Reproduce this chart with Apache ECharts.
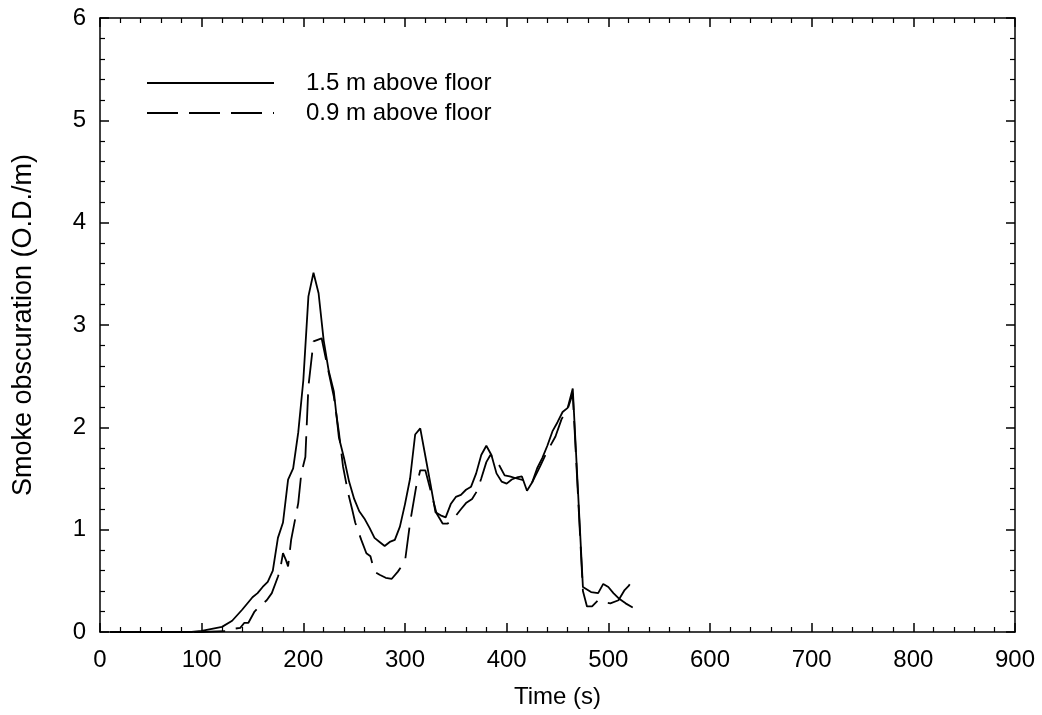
<!DOCTYPE html>
<html>
<head>
<meta charset="utf-8">
<script src="https://cdn.jsdelivr.net/npm/echarts@6/dist/echarts.min.js"></script>
<style>
  html, body { margin: 0; padding: 0; background: #fff; }
  #main { width: 1042px; height: 715px; }
</style>
</head>
<body>
<div id="main"></div>
<script>
// 1.5 m above floor
var time15 = [10, 50, 90, 100, 110, 120, 130, 140, 150, 155, 160, 165, 170, 175, 180, 185, 190, 195, 200, 205,
    210, 215, 220, 225, 230, 235, 240, 245, 250, 255, 260, 265, 270, 275, 280, 285, 290, 295, 300, 305,
    310, 315, 320, 325, 330, 335, 340, 345, 350, 355, 360, 365, 370, 375, 380, 385, 390, 395, 400, 405,
    410, 415, 420, 425, 430, 435, 440, 445, 450, 455, 460, 465, 475, 483, 490, 495, 500, 505, 510, 517, 524];
var smoke15 = [0, 0, 0, 0.01, 0.03, 0.05, 0.11, 0.22, 0.34, 0.38, 0.44, 0.49, 0.6, 0.92, 1.07, 1.49, 1.6, 1.95, 2.46, 3.28,
    3.51, 3.31, 2.85, 2.55, 2.35, 1.9, 1.7, 1.47, 1.3, 1.18, 1.11, 1.02, 0.92, 0.88, 0.84, 0.88, 0.9, 1.03, 1.25, 1.5,
    1.93, 1.99, 1.72, 1.45, 1.17, 1.14, 1.12, 1.25, 1.32, 1.34, 1.39, 1.42, 1.55, 1.73, 1.82, 1.73, 1.55, 1.47, 1.45, 1.49,
    1.51, 1.52, 1.38, 1.46, 1.6, 1.7, 1.82, 1.96, 2.05, 2.15, 2.19, 2.38, 0.44, 0.39, 0.38, 0.47, 0.44, 0.38, 0.33, 0.28, 0.24];

// 0.9 m above floor
var time09 = [10, 60, 100, 125, 130, 138, 142, 146, 152, 158, 164, 169, 175, 177, 180, 183, 185, 188, 195, 198,
    202, 205, 210, 218, 224, 230, 235, 239, 244, 248, 251, 257, 262, 266, 270, 275, 281, 287, 293, 300,
    305, 311, 315, 320, 325, 331, 337, 342, 348, 355, 360, 366, 371, 375, 380, 384, 391, 398, 403, 410,
    418, 424, 433, 439, 448, 454, 460, 465, 475, 479, 484, 490, 496, 502, 510, 516, 520, 525];
var smoke09 = [0, 0, 0, 0.01, 0.03, 0.04, 0.09, 0.09, 0.2, 0.26, 0.31, 0.38, 0.54, 0.6, 0.77, 0.7, 0.64, 0.9, 1.26, 1.55,
    1.71, 2.4, 2.84, 2.87, 2.58, 2.3, 1.95, 1.62, 1.36, 1.2, 1.07, 0.9, 0.77, 0.74, 0.59, 0.56, 0.53, 0.52, 0.59, 0.69,
    1.07, 1.42, 1.58, 1.58, 1.39, 1.16, 1.06, 1.06, 1.11, 1.2, 1.26, 1.3, 1.38, 1.5, 1.66, 1.73, 1.66, 1.53, 1.52, 1.5,
    1.48, 1.44, 1.62, 1.75, 1.91, 2.08, 2.18, 2.33, 0.4, 0.25, 0.25, 0.31, 0.29, 0.28, 0.31, 0.41, 0.45, 0.53];

function pairs(xs, ys) {
    return xs.map(function (x, i) { return [x, ys[i]]; });
}

var font = 'Liberation Sans';
var myChart = echarts.init(document.getElementById('main'));

var axisBase = {
    type: 'value',
    axisLine: { show: true, onZero: false, lineStyle: { color: '#000', width: 1.5 } },
    axisTick: { show: true, inside: true, length: 9, lineStyle: { color: '#000', width: 1.5 } },
    minorTick: { show: true, splitNumber: 5, length: 5, lineStyle: { color: '#000', width: 1.2 } },
    splitLine: { show: false },
    axisLabel: { color: '#000', fontSize: 24, fontFamily: font }
};

myChart.setOption({
    animation: false,
    backgroundColor: '#fff',
    grid: { left: 100, right: 27, top: 18, bottom: 83 },
    legend: {
        orient: 'vertical',
        left: 141,
        top: 66,
        itemWidth: 127,
        itemHeight: 14,
        itemGap: 6,
        itemStyle: { opacity: 0 },
        textStyle: { color: '#000', fontSize: 24, fontFamily: font, padding: [0, 0, 0, 27] },
        data: ['1.5 m above floor', '0.9 m above floor']
    },
    xAxis: [
        Object.assign({}, axisBase, {
            min: 0, max: 900, interval: 100,
            axisLabel: Object.assign({}, axisBase.axisLabel, { margin: 16 }),
            name: 'Time (s)', nameLocation: 'middle', nameGap: 53,
            nameTextStyle: { color: '#000', fontSize: 24, fontFamily: font }
        }),
        Object.assign({}, axisBase, {
            position: 'top', min: 0, max: 900, interval: 100,
            axisLabel: { show: false }
        })
    ],
    yAxis: [
        Object.assign({}, axisBase, {
            min: 0, max: 6, interval: 1,
            axisLabel: Object.assign({}, axisBase.axisLabel, { margin: 14 }),
            name: 'Smoke obscuration (O.D./m)', nameLocation: 'middle', nameGap: 63,
            nameTextStyle: { color: '#000', fontSize: 27, fontFamily: font }
        }),
        Object.assign({}, axisBase, {
            position: 'right', min: 0, max: 6, interval: 1,
            axisLabel: { show: false }
        })
    ],
    series: [
        {
            name: '1.5 m above floor',
            type: 'line',
            showSymbol: false,
            symbol: 'none',
            lineStyle: { color: '#000', width: 1.8 },
            itemStyle: { color: '#000' },
            data: pairs(time15, smoke15)
        },
        {
            name: '0.9 m above floor',
            type: 'line',
            showSymbol: false,
            symbol: 'none',
            lineStyle: { color: '#000', width: 1.8, type: [31, 11] },
            itemStyle: { color: '#000' },
            data: pairs(time09, smoke09)
        }
    ]
});
</script>
</body>
</html>
